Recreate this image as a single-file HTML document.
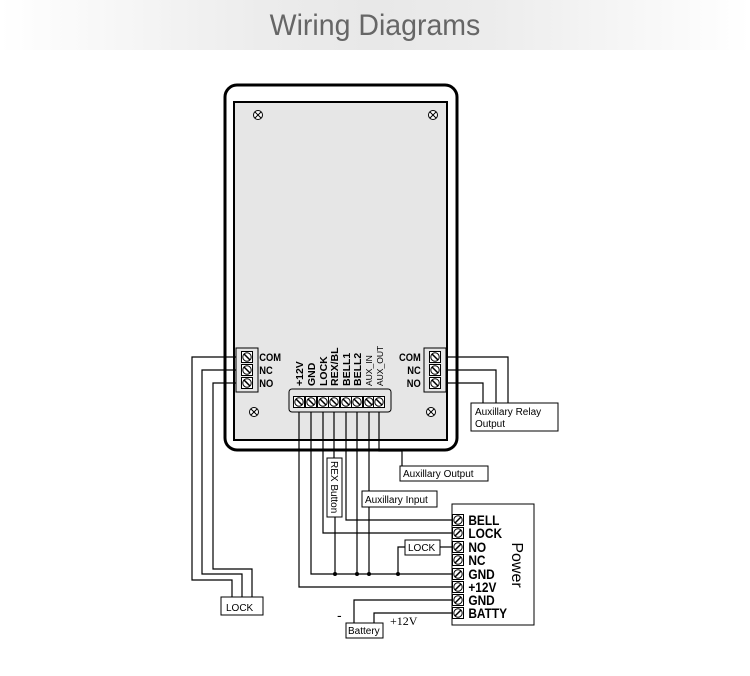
<!DOCTYPE html>
<html><head><meta charset="utf-8"><style>
body{margin:0;width:750px;height:676px;background:#fff;overflow:hidden;font-family:"Liberation Sans",sans-serif}
.hdr{position:absolute;left:0;top:0;width:750px;height:50px;background:linear-gradient(90deg,#fff 0%,#ececec 35%,#e8e8e8 50%,#ececec 65%,#fff 100%)}
.hdr div{text-align:center;font-size:30px;color:#666;line-height:52px;transform:scaleX(0.95)}
svg{position:absolute;left:0;top:0}
</style></head><body>
<div class="hdr"><div>Wiring Diagrams</div></div>
<svg width="750" height="676" viewBox="0 0 750 676" font-family="Liberation Sans, sans-serif">
<defs>
<g id="sc"><rect x="-5.5" y="-5.5" width="11" height="11" fill="#fff" stroke="#000" stroke-width="1"/><circle r="4.2" fill="none" stroke="#000" stroke-width="1"/><line x1="-3" y1="3" x2="3" y2="-3" stroke="#000" stroke-width="1.5"/></g>
<g id="sb"><rect x="-5.5" y="-5.5" width="11" height="11" fill="#fff" stroke="#000" stroke-width="1"/><circle r="4.2" fill="none" stroke="#000" stroke-width="1"/><line x1="-3" y1="-3" x2="3" y2="3" stroke="#000" stroke-width="1.5"/></g>
<g id="x"><circle r="4.5" fill="#fff" stroke="#000" stroke-width="1"/><line x1="-3" y1="-3" x2="3" y2="3" stroke="#000"/><line x1="-3" y1="3" x2="3" y2="-3" stroke="#000"/></g>
</defs>
<rect x="225" y="85" width="232" height="365" rx="12" fill="#fff" stroke="#000" stroke-width="3"/>
<rect x="234" y="102" width="213" height="338" fill="#e6e6e6" stroke="#000" stroke-width="2"/>
<use href="#x" x="258" y="115"/><use href="#x" x="433" y="115"/><use href="#x" x="254" y="412"/><use href="#x" x="431" y="412"/>
<g fill="none" stroke="#000" stroke-width="1.2">
<polyline points="244,357 192,357 192,580 232,580 232,597"/>
<polyline points="244,370 202,370 202,574 242,574 242,597"/>
<polyline points="244,383 213,383 213,569 252,569 252,597"/>
<polyline points="436,357 508,357 508,403"/>
<polyline points="436,370 496,370 496,403"/>
<polyline points="436,383 483,383 483,403"/>
<polyline points="299,402 299,587 453,587"/>
<polyline points="311,402 311,574 453,574"/>
<polyline points="323,402 323,533 453,533"/>
<polyline points="334,402 334,458"/>
<polyline points="335,517 335,574"/>
<polyline points="346,402 346,520 453,520"/>
<polyline points="357,402 357,574"/>
<polyline points="369,402 369,574"/>
<polyline points="379,402 379,451 402,451 402,466"/>
<polyline points="440,547 453,547"/>
<polyline points="405,547 398,547 398,574"/>
<polyline points="453,600 354,600 354,623"/>
<polyline points="453,613 374,613 374,623"/>
</g>
<g fill="#000"><circle cx="335" cy="574" r="2"/><circle cx="357" cy="574" r="2"/><circle cx="369" cy="574" r="2"/><circle cx="398" cy="574" r="2"/></g>
<rect x="236" y="348" width="22" height="44" fill="#e6e6e6" stroke="#000"/>
<use href="#sb" x="247" y="357"/><use href="#sb" x="247" y="370"/><use href="#sb" x="247" y="383"/>
<g font-size="11" font-weight="bold" transform="scale(0.85,1)"><text x="305" y="361">COM</text><text x="305" y="374">NC</text><text x="305" y="387">NO</text></g>
<rect x="424" y="348" width="22" height="44" fill="#e6e6e6" stroke="#000"/>
<use href="#sb" x="435" y="357"/><use href="#sb" x="435" y="370"/><use href="#sb" x="435" y="383"/>
<g font-size="11" font-weight="bold" text-anchor="end" transform="scale(0.85,1)"><text x="495" y="361">COM</text><text x="495" y="374">NC</text><text x="495" y="387">NO</text></g>
<rect x="289" y="389" width="102" height="23" rx="3" fill="#e6e6e6" stroke="#000"/>
<g><use href="#sb" x="299" y="402"/><use href="#sb" x="311" y="402"/><use href="#sb" x="323" y="402"/><use href="#sb" x="334" y="402"/><use href="#sb" x="346" y="402"/><use href="#sb" x="357" y="402"/><use href="#sb" x="369" y="402"/><use href="#sb" x="379" y="402"/></g>
<g font-size="10.5" font-weight="bold">
<text transform="translate(303,386) rotate(-90)">+12V</text>
<text transform="translate(315,386) rotate(-90)">GND</text>
<text transform="translate(327,386) rotate(-90)">LOCK</text>
<text transform="translate(338,386) rotate(-90)">REX/BL</text>
<text transform="translate(350,386) rotate(-90)">BELL1</text>
<text transform="translate(361,386) rotate(-90)">BELL2</text>
<text transform="translate(372,386) rotate(-90)" font-size="8.5" font-weight="normal">AUX_IN</text>
<text transform="translate(383,386) rotate(-90)" font-size="8.5" font-weight="normal">AUX_OUT</text>
</g>
<g fill="#fff" stroke="#000" stroke-width="1">
<rect x="471" y="403" width="87" height="28"/>
<rect x="400" y="466" width="88" height="15"/>
<rect x="362" y="491" width="75" height="16"/>
<rect x="327" y="458" width="15" height="59"/>
<rect x="405" y="540" width="35" height="15"/>
<rect x="221" y="597" width="42" height="18"/>
<rect x="346" y="623" width="37" height="15"/>
<rect x="452" y="504" width="82" height="121"/>
</g>
<g font-size="10" fill="#000">
<text x="475" y="415">Auxillary Relay</text><text x="475" y="427">Output</text>
<text x="403" y="477">Auxillary Output</text>
<text x="365" y="503">Auxillary Input</text>
<text transform="translate(331,461) rotate(90)">REX Button</text>
<text x="408" y="551">LOCK</text>
<text x="226" y="611">LOCK</text>
<text x="348" y="634">Battery</text>
<text x="390" y="625" font-family="Liberation Serif, serif" font-size="12">+12V</text>
<text x="337" y="620" font-size="14">-</text>
</g>
<g><use href="#sc" x="458" y="520"/><use href="#sc" x="458" y="533"/><use href="#sc" x="458" y="547"/><use href="#sc" x="458" y="560"/><use href="#sc" x="458" y="574"/><use href="#sc" x="458" y="587"/><use href="#sc" x="458" y="600"/><use href="#sc" x="458" y="613"/></g>
<g font-size="14" font-weight="bold" transform="scale(0.85,1)">
<text x="551" y="525">BELL</text><text x="551" y="538">LOCK</text><text x="551" y="552">NO</text><text x="551" y="565">NC</text><text x="551" y="579">GND</text><text x="551" y="592">+12V</text><text x="551" y="605">GND</text><text x="551" y="618">BATTY</text>
</g>
<text transform="translate(512,565) rotate(90)" font-size="16" text-anchor="middle">Power</text>
</svg>
</body></html>
